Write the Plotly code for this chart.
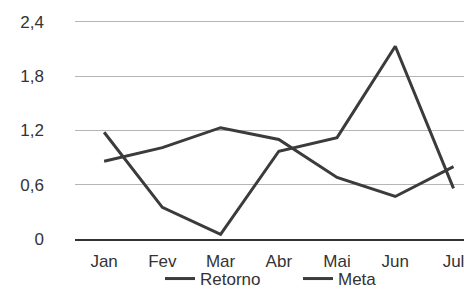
import plotly.graph_objects as go

months = ["Jan", "Fev", "Mar", "Abr", "Mai", "Jun", "Jul"]
retorno = [1.18, 0.35, 0.05, 0.97, 1.12, 2.13, 0.56]
meta = [0.86, 1.01, 1.23, 1.10, 0.68, 0.47, 0.80]
y_tickvals = [0, 0.6, 1.2, 1.8, 2.4]
y_ticktext = ["0", "0,6", "1,2", "1,8", "2,4"]

line_color = "#3b3b3b"
font = dict(family="Liberation Sans, Arial, sans-serif", size=17, color="#333333")

fig = go.Figure()
fig.add_trace(go.Scatter(x=months, y=retorno, mode="lines", name="Retorno",
                         line=dict(color=line_color, width=3)))
fig.add_trace(go.Scatter(x=months, y=meta, mode="lines", name="Meta",
                         line=dict(color=line_color, width=3)))

fig.update_layout(
    width=464, height=297,
    margin=dict(l=75, r=0, t=20, b=58, autoexpand=False),
    paper_bgcolor="white", plot_bgcolor="white",
    font=font,
    showlegend=True,
    legend=dict(orientation="h", xref="container", yref="container",
                x=160 / 464, xanchor="left", y=1 - 279 / 297, yanchor="middle",
                bgcolor="rgba(0,0,0,0)", font=font, entrywidth=93,
                tracegroupgap=0),
)
fig.update_xaxes(
    type="category", range=[-0.5, 6.18], automargin=False,
    showgrid=False, showline=True, linecolor="#333333", linewidth=2,
    ticks="", ticklabelstandoff=6, tickfont=font, zeroline=False,
)
fig.update_yaxes(
    range=[0, 2.42], tickvals=y_tickvals, ticktext=y_ticktext, automargin=False,
    showgrid=True, gridcolor="#b5b5b5", gridwidth=1,
    showline=False, zeroline=False, ticks="", ticklabelstandoff=30, tickfont=font,
)

fig.write_html("out.html", config={"displayModeBar": False},
               post_script="document.body.style.margin='0';document.body.style.overflow='hidden';")
